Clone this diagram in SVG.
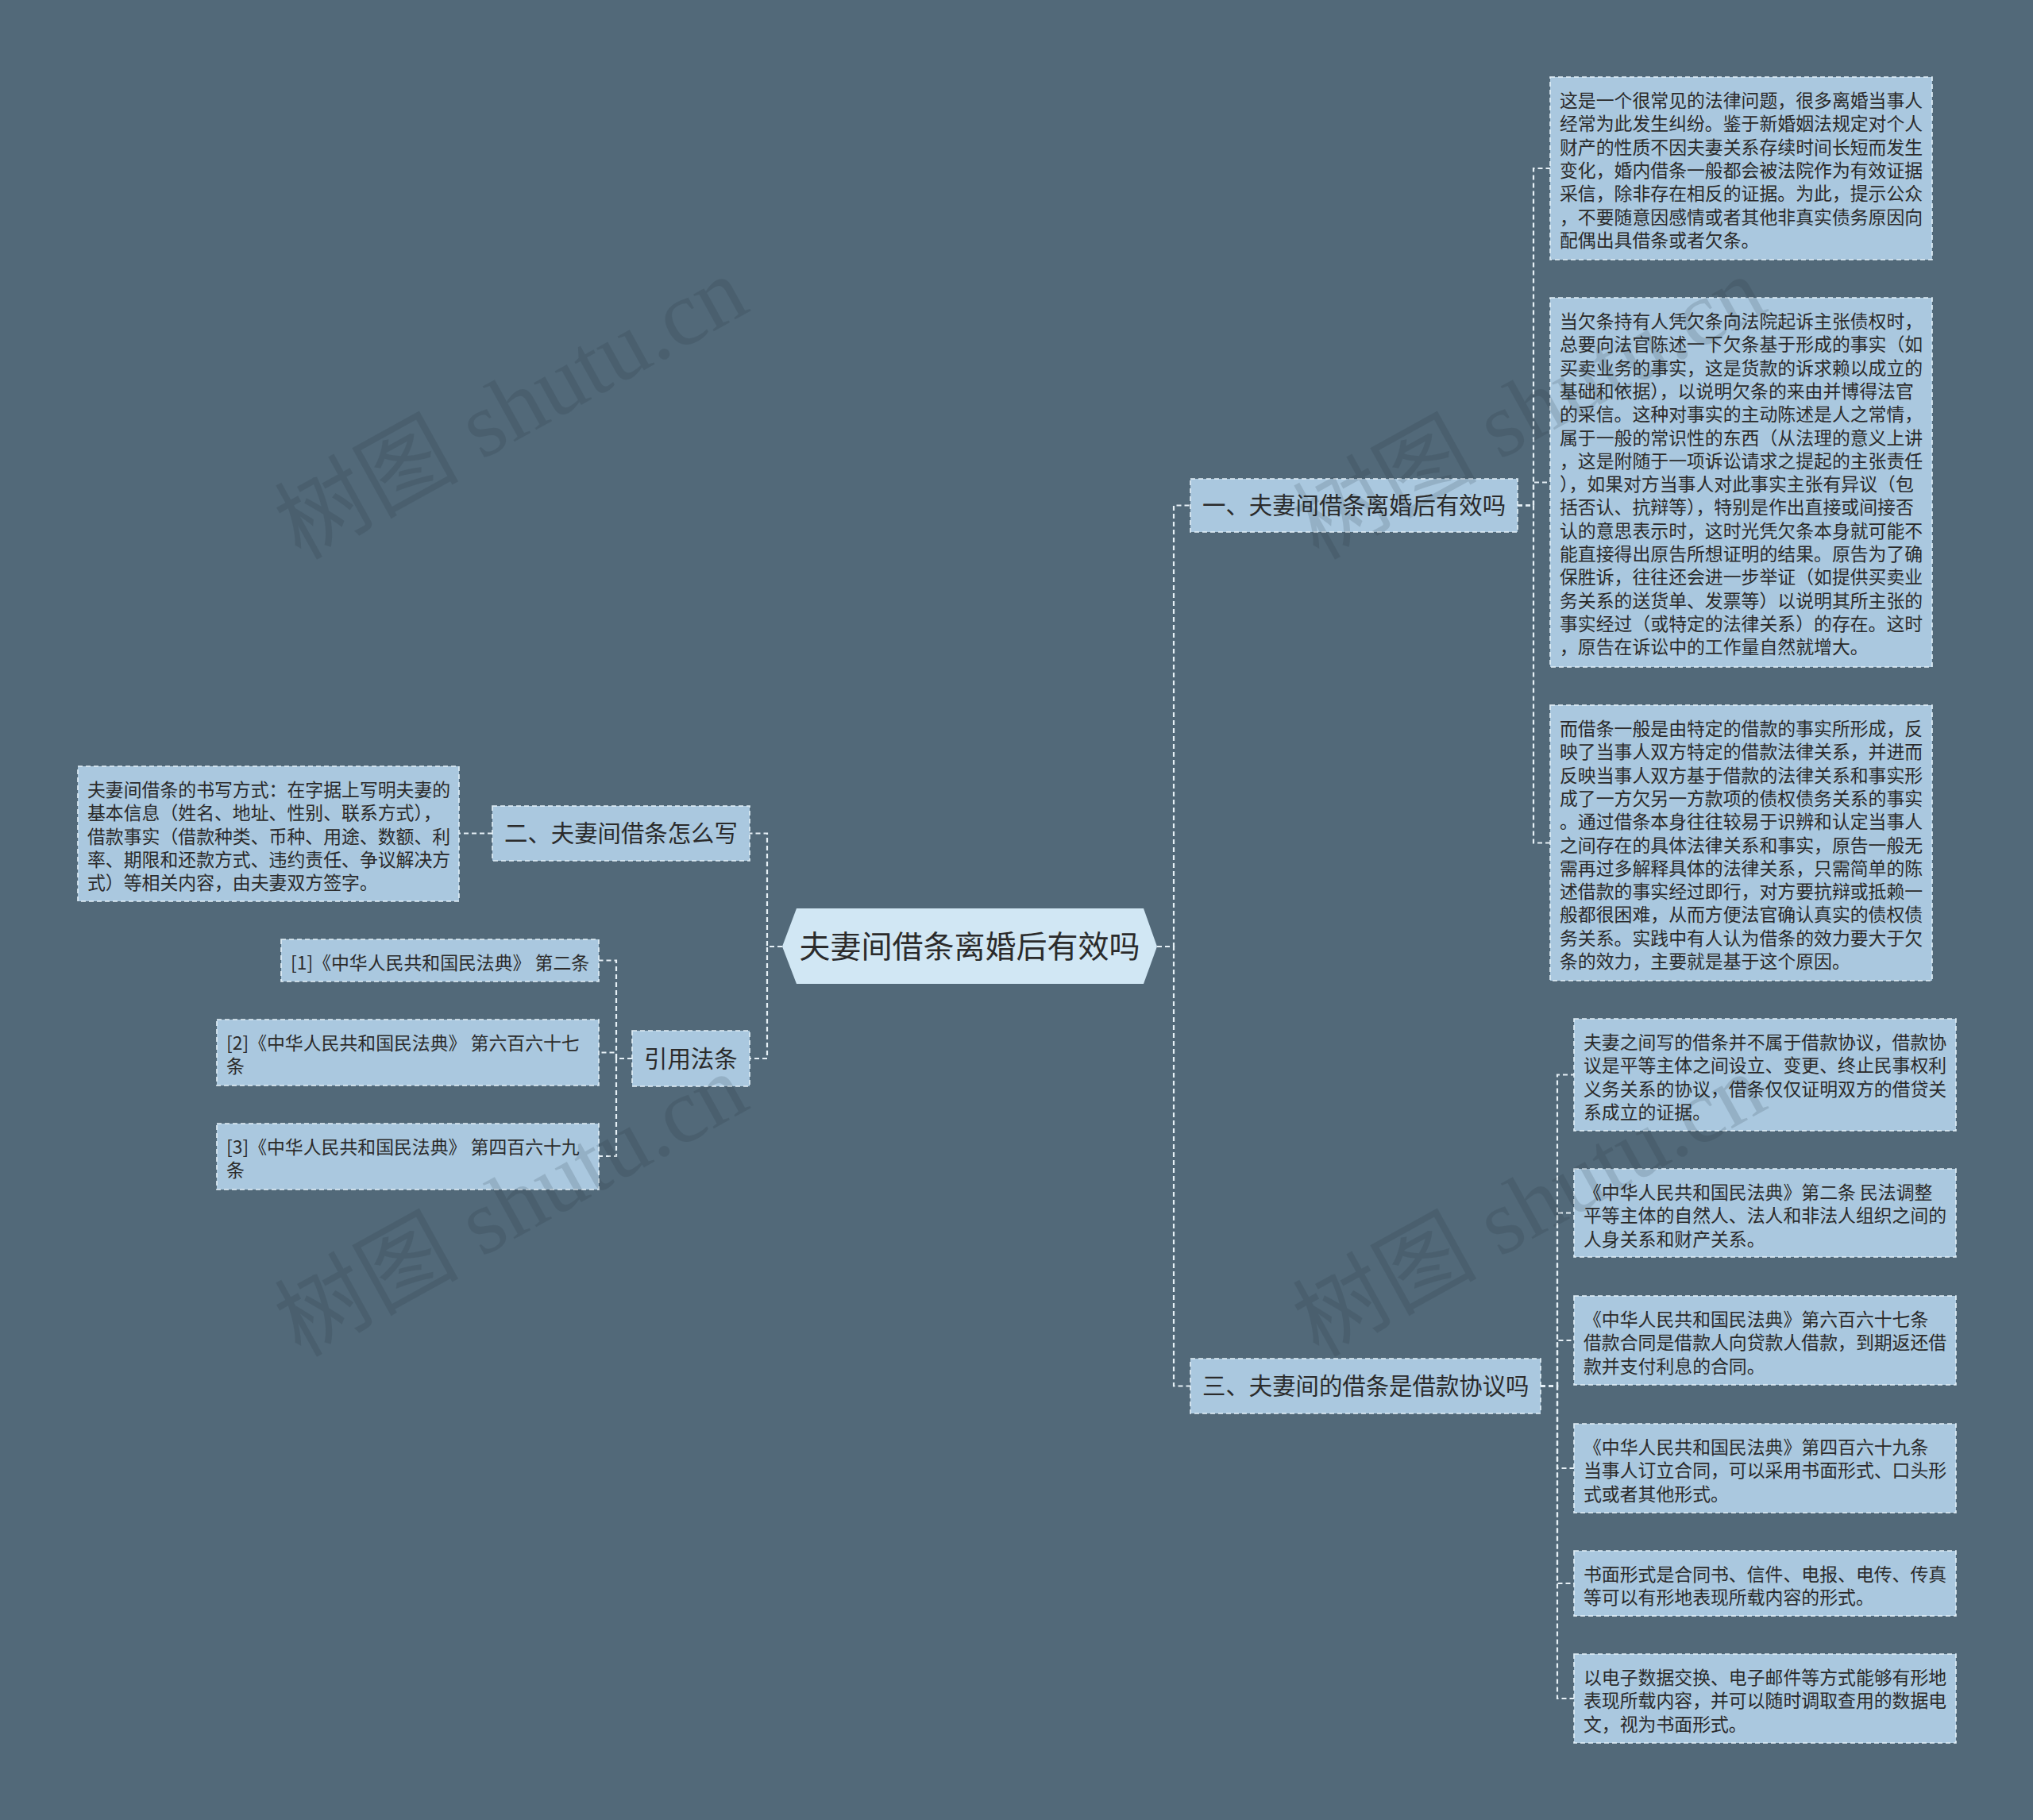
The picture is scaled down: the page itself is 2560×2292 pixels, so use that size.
<svg xmlns="http://www.w3.org/2000/svg" width="2560" height="2292" viewBox="0 0 2560 2292">
<style>
.box{fill:#aac8df;stroke:#e3f0f8;stroke-width:1.6;stroke-dasharray:6 4}
.root{fill:#d1e7f4}
.conn{fill:none;stroke:#e6f0f6;stroke-width:2.2;stroke-dasharray:6 4}
.t{font-family:"Noto Sans CJK SC","Liberation Sans",sans-serif;fill:#2b2b2b;font-size:22.86px}
.cat{font-size:29.4px}
.rt{font-size:39px}
.wm{font-family:"Liberation Serif","Noto Sans CJK SC",serif;font-size:116px;fill:#1e2d37;opacity:0.15}
</style>
<rect x="0" y="0" width="2560" height="2292" fill="#526979"/>
<g id="connectors">
<path class="conn" d="M1457,1192 H1478 V636.5 H1499"/>
<path class="conn" d="M1457,1192 H1478 V1745.5 H1499"/>
<path class="conn" d="M1911,636.5 H1931 V212 H1952"/>
<path class="conn" d="M1911,636.5 H1931 V607.5 H1952"/>
<path class="conn" d="M1911,636.5 H1931 V1061.5 H1952"/>
<path class="conn" d="M1940,1745.5 H1961 V1353.5 H1982"/>
<path class="conn" d="M1940,1745.5 H1961 V1527.5 H1982"/>
<path class="conn" d="M1940,1745.5 H1961 V1688 H1982"/>
<path class="conn" d="M1940,1745.5 H1961 V1849 H1982"/>
<path class="conn" d="M1940,1745.5 H1961 V1994 H1982"/>
<path class="conn" d="M1940,1745.5 H1961 V2139 H1982"/>
<path class="conn" d="M985,1192 H966 V1049.5 H944"/>
<path class="conn" d="M985,1192 H966 V1333 H944"/>
<path class="conn" d="M620,1049.5 H578"/>
<path class="conn" d="M796,1333 H776 V1209.5 H754"/>
<path class="conn" d="M796,1333 H776 V1325.5 H754"/>
<path class="conn" d="M796,1333 H776 V1456 H754"/>
</g>
<g id="root">
<polygon class="root" points="985,1192 1003,1144 1440,1144 1457,1192 1440,1239 1003,1239"/>
<text class="t rt" x="1221" y="1206" text-anchor="middle">夫妻间借条离婚后有效吗</text>
</g>
<g id="n1">
<rect class="box" x="1499" y="603" width="412" height="67"/>
<text class="t cat" x="1514" y="647.4">一、夫妻间借条离婚后有效吗</text>
</g>
<g id="n1a">
<rect class="box" x="1952" y="97" width="481" height="230"/>
<text class="t" x="1964" y="135"><tspan x="1964">这是一个很常见的法律问题，很多离婚当事人</tspan><tspan x="1964" dy="29.3">经常为此发生纠纷。鉴于新婚姻法规定对个人</tspan><tspan x="1964" dy="29.3">财产的性质不因夫妻关系存续时间长短而发生</tspan><tspan x="1964" dy="29.3">变化，婚内借条一般都会被法院作为有效证据</tspan><tspan x="1964" dy="29.3">采信，除非存在相反的证据。为此，提示公众</tspan><tspan x="1964" dy="29.3">，不要随意因感情或者其他非真实债务原因向</tspan><tspan x="1964" dy="29.3">配偶出具借条或者欠条。</tspan></text>
</g>
<g id="n1b">
<rect class="box" x="1952" y="375" width="481" height="465"/>
<text class="t" x="1964" y="413"><tspan x="1964">当欠条持有人凭欠条向法院起诉主张债权时，</tspan><tspan x="1964" dy="29.3">总要向法官陈述一下欠条基于形成的事实（如</tspan><tspan x="1964" dy="29.3">买卖业务的事实，这是货款的诉求赖以成立的</tspan><tspan x="1964" dy="29.3">基础和依据），以说明欠条的来由并博得法官</tspan><tspan x="1964" dy="29.3">的采信。这种对事实的主动陈述是人之常情，</tspan><tspan x="1964" dy="29.3">属于一般的常识性的东西（从法理的意义上讲</tspan><tspan x="1964" dy="29.3">，这是附随于一项诉讼请求之提起的主张责任</tspan><tspan x="1964" dy="29.3">），如果对方当事人对此事实主张有异议（包</tspan><tspan x="1964" dy="29.3">括否认、抗辩等），特别是作出直接或间接否</tspan><tspan x="1964" dy="29.3">认的意思表示时，这时光凭欠条本身就可能不</tspan><tspan x="1964" dy="29.3">能直接得出原告所想证明的结果。原告为了确</tspan><tspan x="1964" dy="29.3">保胜诉，往往还会进一步举证（如提供买卖业</tspan><tspan x="1964" dy="29.3">务关系的送货单、发票等）以说明其所主张的</tspan><tspan x="1964" dy="29.3">事实经过（或特定的法律关系）的存在。这时</tspan><tspan x="1964" dy="29.3">，原告在诉讼中的工作量自然就增大。</tspan></text>
</g>
<g id="n1c">
<rect class="box" x="1952" y="888" width="481" height="347"/>
<text class="t" x="1964" y="926"><tspan x="1964">而借条一般是由特定的借款的事实所形成，反</tspan><tspan x="1964" dy="29.3">映了当事人双方特定的借款法律关系，并进而</tspan><tspan x="1964" dy="29.3">反映当事人双方基于借款的法律关系和事实形</tspan><tspan x="1964" dy="29.3">成了一方欠另一方款项的债权债务关系的事实</tspan><tspan x="1964" dy="29.3">。通过借条本身往往较易于识辨和认定当事人</tspan><tspan x="1964" dy="29.3">之间存在的具体法律关系和事实，原告一般无</tspan><tspan x="1964" dy="29.3">需再过多解释具体的法律关系，只需简单的陈</tspan><tspan x="1964" dy="29.3">述借款的事实经过即行，对方要抗辩或抵赖一</tspan><tspan x="1964" dy="29.3">般都很困难，从而方便法官确认真实的债权债</tspan><tspan x="1964" dy="29.3">务关系。实践中有人认为借条的效力要大于欠</tspan><tspan x="1964" dy="29.3">条的效力，主要就是基于这个原因。</tspan></text>
</g>
<g id="n3">
<rect class="box" x="1499" y="1711" width="441" height="69"/>
<text class="t cat" x="1514" y="1756.4">三、夫妻间的借条是借款协议吗</text>
</g>
<g id="n3a">
<rect class="box" x="1982" y="1283" width="481" height="141"/>
<text class="t" x="1994" y="1321"><tspan x="1994">夫妻之间写的借条并不属于借款协议，借款协</tspan><tspan x="1994" dy="29.3">议是平等主体之间设立、变更、终止民事权利</tspan><tspan x="1994" dy="29.3">义务关系的协议，借条仅仅证明双方的借贷关</tspan><tspan x="1994" dy="29.3">系成立的证据。</tspan></text>
</g>
<g id="n3b">
<rect class="box" x="1982" y="1472" width="481" height="111"/>
<text class="t" x="1994" y="1510"><tspan x="1994">《中华人民共和国民法典》第二条 民法调整</tspan><tspan x="1994" dy="29.3">平等主体的自然人、法人和非法人组织之间的</tspan><tspan x="1994" dy="29.3">人身关系和财产关系。</tspan></text>
</g>
<g id="n3c">
<rect class="box" x="1982" y="1632" width="481" height="112"/>
<text class="t" x="1994" y="1670"><tspan x="1994">《中华人民共和国民法典》第六百六十七条</tspan><tspan x="1994" dy="29.3">借款合同是借款人向贷款人借款，到期返还借</tspan><tspan x="1994" dy="29.3">款并支付利息的合同。</tspan></text>
</g>
<g id="n3d">
<rect class="box" x="1982" y="1793" width="481" height="112"/>
<text class="t" x="1994" y="1831"><tspan x="1994">《中华人民共和国民法典》第四百六十九条</tspan><tspan x="1994" dy="29.3">当事人订立合同，可以采用书面形式、口头形</tspan><tspan x="1994" dy="29.3">式或者其他形式。</tspan></text>
</g>
<g id="n3e">
<rect class="box" x="1982" y="1953" width="481" height="82"/>
<text class="t" x="1994" y="1991"><tspan x="1994">书面形式是合同书、信件、电报、电传、传真</tspan><tspan x="1994" dy="29.3">等可以有形地表现所载内容的形式。</tspan></text>
</g>
<g id="n3f">
<rect class="box" x="1982" y="2083" width="481" height="112"/>
<text class="t" x="1994" y="2121"><tspan x="1994">以电子数据交换、电子邮件等方式能够有形地</tspan><tspan x="1994" dy="29.3">表现所载内容，并可以随时调取查用的数据电</tspan><tspan x="1994" dy="29.3">文，视为书面形式。</tspan></text>
</g>
<g id="n2">
<rect class="box" x="620" y="1015" width="324" height="69"/>
<text class="t cat" x="635" y="1060.4">二、夫妻间借条怎么写</text>
</g>
<g id="n2a">
<rect class="box" x="98" y="965" width="480" height="170"/>
<text class="t" x="110" y="1003"><tspan x="110">夫妻间借条的书写方式：在字据上写明夫妻的</tspan><tspan x="110" dy="29.3">基本信息（姓名、地址、性别、联系方式），</tspan><tspan x="110" dy="29.3">借款事实（借款种类、币种、用途、数额、利</tspan><tspan x="110" dy="29.3">率、期限和还款方式、违约责任、争议解决方</tspan><tspan x="110" dy="29.3">式）等相关内容，由夫妻双方签字。</tspan></text>
</g>
<g id="n4">
<rect class="box" x="796" y="1298" width="148" height="70"/>
<text class="t cat" x="811" y="1343.9">引用法条</text>
</g>
<g id="n4a">
<rect class="box" x="354" y="1183" width="400" height="53"/>
<text class="t" x="366" y="1221">[1]《中华人民共和国民法典》 第二条</text>
</g>
<g id="n4b">
<rect class="box" x="273" y="1284" width="481" height="83"/>
<text class="t" x="285" y="1322"><tspan x="285">[2]《中华人民共和国民法典》 第六百六十七</tspan><tspan x="285" dy="29.3">条</tspan></text>
</g>
<g id="n4c">
<rect class="box" x="273" y="1415" width="481" height="83"/>
<text class="t" x="285" y="1453"><tspan x="285">[3]《中华人民共和国民法典》 第四百六十九</tspan><tspan x="285" dy="29.3">条</tspan></text>
</g>
<g id="watermarks">
<text class="wm" transform="translate(378,706) rotate(-29)">树图 shutu.cn</text>
<text class="wm" transform="translate(378,1710) rotate(-29)">树图 shutu.cn</text>
<text class="wm" transform="translate(1660,706) rotate(-29)">树图 shutu.cn</text>
<text class="wm" transform="translate(1660,1710) rotate(-29)">树图 shutu.cn</text>
</g>
</svg>
